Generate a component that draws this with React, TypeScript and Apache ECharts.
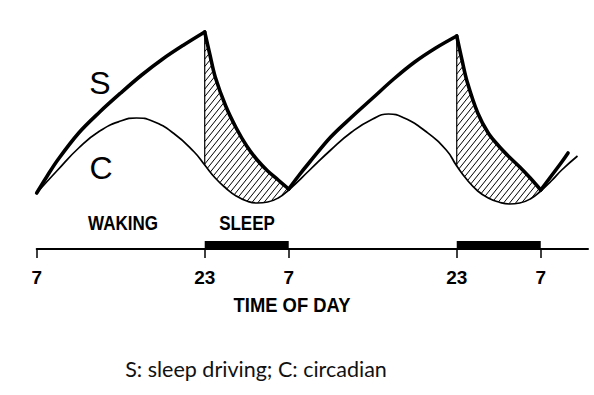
import React, { useEffect, useRef } from "react";
import * as echarts from "echarts";

// Hours counted from 07:00 of the first day
const sleepStartHours = [16, 40];
const sleepEndHours = [24, 48];
const tickHours = [0, 16, 24, 40, 48];
const tickLabels = ["7", "23", "7", "23", "7"];

// S: sleep driving (homeostatic) curve
const sHours = [0, 1, 2, 4, 6, 8, 10, 12, 14, 16, 16.5, 17, 18, 19, 20, 21, 22, 23, 24, 25, 26, 28, 30, 32, 34, 36, 38, 40, 40.5, 41, 42, 43, 44, 45, 46, 47, 48, 49, 50, 50.6];
const sValues = [5.6, 7.3, 8.9, 11.6, 13.7, 15.6, 17.4, 19.0, 20.4, 21.7, 19.4, 17.2, 14.3, 12.1, 10.3, 8.9, 7.8, 6.9, 6.0, 7.4, 8.7, 11.2, 13.2, 15.1, 17.0, 18.7, 20.1, 21.3, 18.9, 16.7, 13.6, 11.6, 10.3, 9.2, 8.2, 7.1, 5.9, 7.3, 8.7, 9.6];

// C: circadian curve
const cHours = [0, 2, 4, 6, 8, 9.5, 11, 13, 15, 16, 17, 18, 19, 20, 21, 22, 23, 24, 26, 28, 30, 32, 33.5, 35, 37, 39, 40, 41, 42, 43, 44, 45, 46, 47, 48, 49, 50, 51.5];
const cValues = [5.6, 7.9, 10.1, 11.8, 12.8, 13.1, 12.8, 11.6, 9.7, 8.4, 7.1, 6.1, 5.3, 4.8, 4.6, 4.7, 5.1, 5.9, 7.9, 9.9, 11.7, 13.0, 13.5, 13.1, 11.8, 9.9, 8.3, 6.9, 5.8, 5.1, 4.7, 4.5, 4.6, 5.0, 5.8, 6.8, 7.9, 9.3];

const axisMaxHour = 52.5;

function pointsIn(hours: number[], values: number[], a: number, b: number) {
  const out: number[][] = [];
  for (let i = 0; i < hours.length; i++) {
    if (hours[i] >= a - 1e-9 && hours[i] <= b + 1e-9) out.push([hours[i], values[i]]);
  }
  return out;
}

export default function App() {
  const ref = useRef<HTMLDivElement>(null);
  useEffect(() => {
    if (!ref.current) return;
    const chart = echarts.init(ref.current, null, { renderer: "svg" });

    // split S at cusps (sleep onset / wake-up)
    const bounds = [sHours[0]];
    for (let i = 0; i < sleepStartHours.length; i++) {
      bounds.push(sleepStartHours[i], sleepEndHours[i]);
    }
    bounds.push(sHours[sHours.length - 1]);
    const sSeries: any[] = [];
    for (let i = 0; i < bounds.length - 1; i++) {
      sSeries.push({
        type: "line",
        name: "S" + i,
        data: pointsIn(sHours, sValues, bounds[i], bounds[i + 1]),
        smooth: 0.35,
        symbol: "none",
        z: 5,
        lineStyle: { color: "#000", width: 3.6, cap: "round", join: "round" },
      });
    }

    const sleepData = sleepStartHours.map((s, i) => [s, sleepEndHours[i], 0]);

    const hatchRender = (params: any, api: any) => {
      const start = api.value(0) as number;
      const end = api.value(1) as number;
      const top = pointsIn(sHours, sValues, start, end).map((p) => api.coord(p));
      const bottom = pointsIn(cHours, cValues, start, end).map((p) => api.coord(p));
      const poly = top.concat(bottom.slice().reverse());
      const k = 1.25;
      const step = 6 * k;
      let cmin = Infinity, cmax = -Infinity;
      poly.forEach((p) => {
        const c = k * p[0] + p[1];
        cmin = Math.min(cmin, c);
        cmax = Math.max(cmax, c);
      });
      const children: any[] = [];
      for (let c = Math.ceil(cmin / step) * step; c <= cmax; c += step) {
        const pts: number[][] = [];
        for (let j = 0; j < poly.length; j++) {
          const p = poly[j];
          const q = poly[(j + 1) % poly.length];
          const fp = k * p[0] + p[1] - c;
          const fq = k * q[0] + q[1] - c;
          if ((fp < 0) !== (fq < 0)) {
            const t = fp / (fp - fq);
            pts.push([p[0] + t * (q[0] - p[0]), p[1] + t * (q[1] - p[1])]);
          }
        }
        pts.sort((a, b) => a[0] - b[0]);
        for (let j = 0; j + 1 < pts.length; j += 2) {
          children.push({
            type: "line",
            shape: { x1: pts[j][0], y1: pts[j][1], x2: pts[j + 1][0], y2: pts[j + 1][1] },
            style: { stroke: "#000", lineWidth: 1 },
          });
        }
      }
      children.push({
        type: "line",
        shape: { x1: top[0][0], y1: top[0][1], x2: bottom[0][0], y2: bottom[0][1] },
        style: { stroke: "#000", lineWidth: 1.2 },
      });
      return { type: "group", children };
    };

    const barRender = (params: any, api: any) => {
      const p0 = api.coord([api.value(0), 0]);
      const p1 = api.coord([api.value(1), 0]);
      return {
        type: "rect",
        shape: { x: p0[0], y: p0[1] - 8, width: p1[0] - p0[0], height: 8 },
        style: { fill: "#000" },
      };
    };

    const sans = '"Liberation Sans", Arial, sans-serif';
    const narrowText = (text: string, x: number, y: number, size: number, sx: number) => ({
      type: "text",
      x,
      y,
      scaleX: sx,
      style: { text, fontSize: size, fontWeight: "bold", fontFamily: sans, fill: "#000", align: "center", verticalAlign: "middle" },
    });

    chart.setOption({
      animation: false,
      backgroundColor: "#fff",
      grid: { left: 36.7, right: 6, top: 29, bottom: 146 },
      xAxis: {
        type: "value",
        min: 0,
        max: axisMaxHour,
        splitLine: { show: false },
        axisLine: { show: true, lineStyle: { color: "#000", width: 2 } },
        axisTick: { show: true, customValues: tickHours, length: 9, lineStyle: { color: "#000", width: 1.5 } },
        axisLabel: {
          show: true,
          customValues: tickHours,
          margin: 19,
          color: "#000",
          fontFamily: sans,
          fontWeight: "bold",
          fontSize: 19,
          formatter: (v: number) => {
            const i = tickHours.indexOf(v);
            return i >= 0 ? tickLabels[i] : "";
          },
        },
      },
      yAxis: { type: "value", min: 0, max: 22, show: false },
      series: [
        {
          type: "custom",
          name: "hatch",
          coordinateSystem: "cartesian2d",
          data: sleepData,
          encode: { x: [0, 1], y: 2 },
          renderItem: hatchRender,
          z: 2,
        },
        {
          type: "custom",
          name: "sleepBar",
          coordinateSystem: "cartesian2d",
          data: sleepData,
          encode: { x: [0, 1], y: 2 },
          renderItem: barRender,
          z: 3,
        },
        {
          type: "line",
          name: "C",
          data: cHours.map((h, i) => [h, cValues[i]]),
          smooth: 0.5,
          symbol: "none",
          z: 4,
          lineStyle: { color: "#000", width: 1.7 },
        },
        ...sSeries,
      ],
      graphic: [
        { type: "text", x: 100, y: 83, style: { text: "S", fontSize: 32, fontFamily: sans, fill: "#000", align: "center", verticalAlign: "middle" } },
        { type: "text", x: 101, y: 168, style: { text: "C", fontSize: 32, fontFamily: sans, fill: "#000", align: "center", verticalAlign: "middle" } },
        narrowText("WAKING", 123, 223, 20, 0.85),
        narrowText("SLEEP", 247, 223, 20, 0.85),
        narrowText("TIME OF DAY", 292, 305, 20, 0.92),
        { type: "text", x: 256, y: 369, style: { text: "S: sleep driving; C: circadian", fontSize: 21.5, fontFamily: "Lato, 'Open Sans', sans-serif", fill: "#111", align: "center", verticalAlign: "middle" } },
      ],
    });
    return () => chart.dispose();
  }, []);
  return <div ref={ref} style={{ position: "fixed", left: 0, top: 0, width: 594, height: 395 }} />;
}
